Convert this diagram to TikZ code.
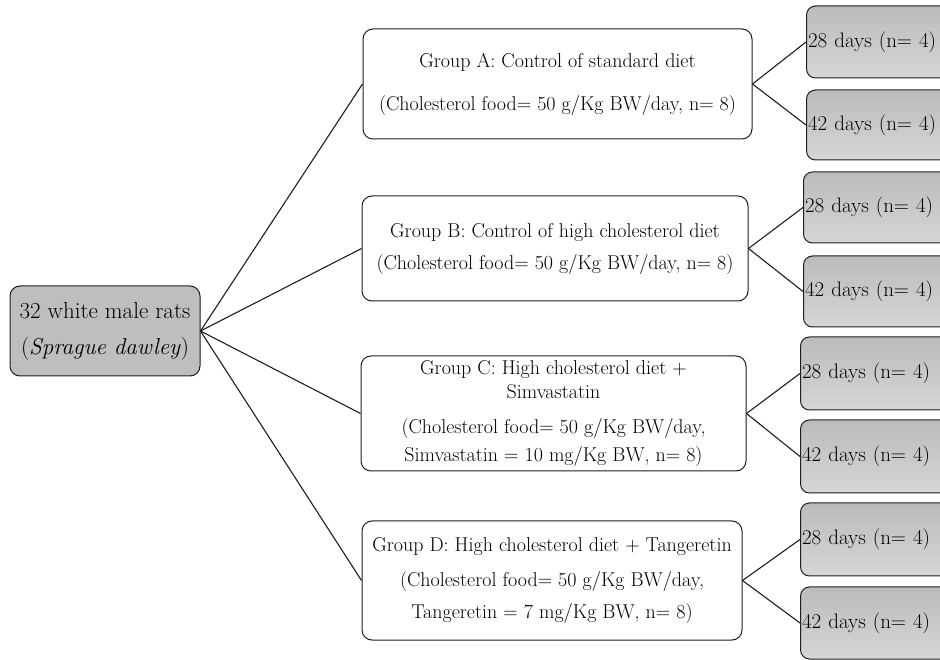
\documentclass[tikz,border=0pt]{standalone}
\usepackage{xcolor}
\usetikzlibrary{positioning}
\definecolor{ink}{HTML}{1E1E1E}
\definecolor{rootgray}{HTML}{BEBEBE}
\definecolor{daytop}{HTML}{BBBBBB}
\definecolor{daybot}{HTML}{D6D6D6}
\newcommand{\RootF}{\fontsize{23}{28}\selectfont}
\newcommand{\DayF}{\fontsize{21}{26}\selectfont}
\newcommand{\GrpF}{\fontsize{20}{25}\selectfont}
\tikzset{
  rootbox/.style={rounded corners=10pt, draw=ink, line width=1pt, fill=rootgray,
                  align=center, font=\RootF, minimum width=190pt, minimum height=90pt, inner sep=0pt},
  grpbox/.style={rounded corners=10pt, draw=ink, line width=1pt, fill=white,
                 align=center, font=\GrpF, inner sep=0pt},
  daybox/.style={rounded corners=9pt, draw=ink, line width=1pt, top color=daytop, bottom color=daybot,
                 anchor=west, minimum width=150pt, text width=147pt, inner xsep=1.5pt, align=left, font=\DayF},
  link/.style={draw=ink, line width=1.1pt},
}
\begin{document}
\begin{tikzpicture}[x=1pt,y=1pt]
  \clip (0,0) rectangle (940,659);
  % source
  \node[rootbox] (rats) at (105,328) {32 white male rats\\[8pt](\textit{Sprague dawley})};
  % groups
  \node[grpbox, minimum width=389pt, minimum height=110pt] (grpA) at (557.5,575)
    {Group A: Control of standard diet\\[18pt](Cholesterol food= 50 g/Kg BW/day, n= 8)};
  \node[grpbox, minimum width=386pt, minimum height=105pt] (grpB) at (555,410.5)
    {Group B: Control of high cholesterol diet\\[7pt](Cholesterol food= 50 g/Kg BW/day, n= 8)};
  \node[grpbox, minimum width=385pt, minimum height=115pt] (grpC) at (553.5,245.5)
    {Group C: High cholesterol diet +\\[-1pt]Simvastatin\\[10pt](Cholesterol food= 50 g/Kg BW/day,\\[3pt]Simvastatin = 10 mg/Kg BW, n= 8)};
  \node[grpbox, minimum width=380pt, minimum height=119pt] (grpD) at (552,78.5)
    {Group D: High cholesterol diet + Tangeretin\\[10pt](Cholesterol food= 50 g/Kg BW/day,\\[7pt]Tangeretin = 7 mg/Kg BW, n= 8)};
  % periods
  \node[daybox, minimum height=72pt] (dayA1) at (806,617) {28 days (n= 4)};
  \node[daybox, minimum height=70pt] (dayA2) at (806,534) {42 days (n= 4)};
  \node[daybox, minimum height=71pt] (dayB1) at (803,451.5) {28 days (n= 4)};
  \node[daybox, minimum height=71pt] (dayB2) at (803,367.5) {42 days (n= 4)};
  \node[daybox, minimum height=73pt] (dayC1) at (800,285.5) {28 days (n= 4)};
  \node[daybox, minimum height=73pt] (dayC2) at (800,202.5) {42 days (n= 4)};
  \node[daybox, minimum height=73pt] (dayD1) at (800,119.5) {28 days (n= 4)};
  \node[daybox, minimum height=72pt] (dayD2) at (800,36) {42 days (n= 4)};
  % connectors
  \foreach \g in {A,B,C,D}{
    \draw[link] (rats.east) -- (grp\g.west);
    \draw[link] (grp\g.east) -- (day\g1.west);
    \draw[link] (grp\g.east) -- (day\g2.west);
  }
\end{tikzpicture}
\end{document}
